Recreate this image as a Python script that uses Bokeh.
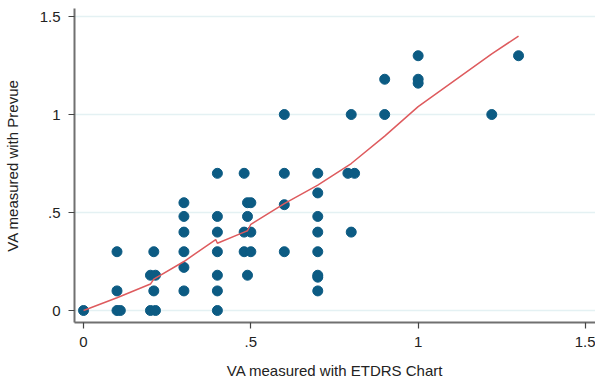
from bokeh.plotting import figure
from bokeh.models import Range1d, FixedTicker
from bokeh.embed import file_html
from bokeh.resources import INLINE

# Scatter data: VA measured with ETDRS chart (x) vs Prevue (y)
etdrs = [0.0,
         0.10, 0.11, 0.10, 0.10,
         0.20, 0.215, 0.20, 0.215, 0.21, 0.21,
         0.30, 0.30, 0.30, 0.30, 0.30, 0.30,
         0.40, 0.40, 0.40, 0.40, 0.40, 0.40, 0.40,
         0.48, 0.48, 0.48,
         0.49, 0.50, 0.49, 0.50, 0.50, 0.49,
         0.60, 0.60, 0.60, 0.60,
         0.70, 0.70, 0.70, 0.70, 0.70, 0.70, 0.70, 0.70,
         0.79, 0.81, 0.80, 0.80,
         0.90, 0.90,
         1.00, 1.00, 1.00,
         1.22,
         1.30]
prevue = [0.0,
          0.0, 0.0, 0.10, 0.30,
          0.0, 0.0, 0.18, 0.18, 0.10, 0.30,
          0.10, 0.22, 0.30, 0.40, 0.48, 0.55,
          0.0, 0.10, 0.18, 0.30, 0.40, 0.48, 0.70,
          0.70, 0.40, 0.30,
          0.55, 0.55, 0.48, 0.40, 0.30, 0.18,
          0.30, 0.54, 0.70, 1.00,
          0.10, 0.17, 0.18, 0.30, 0.40, 0.48, 0.60, 0.70,
          0.70, 0.70, 0.40, 1.00,
          1.00, 1.18,
          1.16, 1.18, 1.30,
          1.00,
          1.30]

# Lowess smoother
lowess_x = [0.0, 0.10, 0.20, 0.21, 0.30, 0.395, 0.40, 0.48, 0.49, 0.50,
            0.60, 0.70, 0.80, 0.90, 1.00, 1.22, 1.30]
lowess_y = [0.0, 0.065, 0.135, 0.16, 0.25, 0.362, 0.343, 0.40, 0.407, 0.44,
            0.545, 0.64, 0.75, 0.89, 1.04, 1.31, 1.40]

tick_vals = [0, 0.5, 1, 1.5]
tick_labels = ["0", ".5", "1", "1.5"]

p = figure(width=595, height=376, output_backend="svg", toolbar_location=None,
           x_range=Range1d(-0.027, 1.530), y_range=Range1d(-0.0612, 1.541),
           min_border_left=74, min_border_right=0, min_border_top=8,
           min_border_bottom=54)
p.frame_width = 521
p.frame_height = 314
p.outline_line_color = None
p.background_fill_color = "white"
p.border_fill_color = "white"

p.xgrid.visible = False
p.ygrid.grid_line_color = "#e4f1f3"
p.ygrid.grid_line_width = 1.5
p.ygrid.ticker = FixedTicker(ticks=tick_vals)

for ax in (p.xaxis[0], p.yaxis[0]):
    ax.ticker = FixedTicker(ticks=tick_vals)
    ax.major_label_overrides = dict(zip(tick_vals, tick_labels))
    ax.minor_tick_line_color = None
    ax.axis_line_color = "#707070"
    ax.axis_line_width = 2
    ax.major_tick_line_color = "#444444"
    ax.major_tick_line_width = 1.2
    ax.major_tick_in = 0
    ax.major_tick_out = 6
    ax.major_label_text_font = "Liberation Sans"
    ax.major_label_text_font_size = "15px"
    ax.major_label_text_color = "#222222"
    ax.major_label_standoff = 8
    ax.axis_label_text_font = "Liberation Sans"
    ax.axis_label_text_font_size = "15px"
    ax.axis_label_text_font_style = "normal"
    ax.axis_label_text_color = "#222222"

p.xaxis.axis_label = "VA measured with ETDRS Chart"
p.yaxis.axis_label = "VA measured with Prevue"
p.xaxis.axis_label_standoff = 12
p.yaxis.axis_label_standoff = 16
p.yaxis.major_label_orientation = "horizontal"

p.scatter(etdrs, prevue, size=10, fill_color="#0c5b83", line_color="#0c5b83")
p.line(lowess_x, lowess_y, line_color="#de5b5e", line_width=1.5)

open("out.html", "w").write(file_html(p, INLINE))
